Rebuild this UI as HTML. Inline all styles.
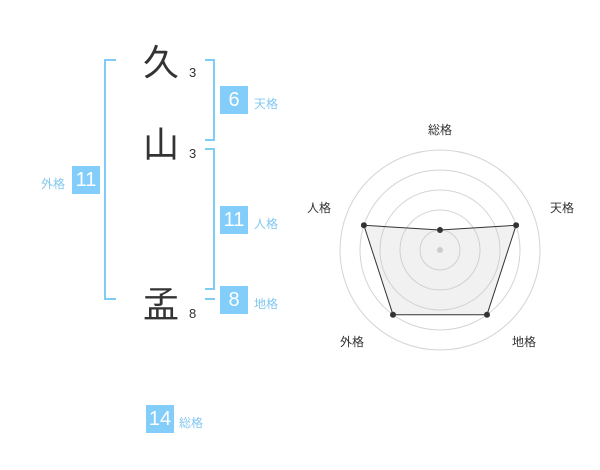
<!DOCTYPE html>
<html><head><meta charset="utf-8"><style>
html,body{margin:0;padding:0;background:#fff;}
body{width:600px;height:470px;position:relative;overflow:hidden;font-family:"Liberation Sans","Noto Sans CJK JP",sans-serif;}
.a{position:absolute;}
.ch{position:absolute;font-size:36px;line-height:36px;color:#333;width:40px;text-align:center;font-family:"Noto Sans CJK JP",sans-serif;}
.n{position:absolute;font-size:13px;line-height:13px;color:#333;}
.box{position:absolute;width:28px;height:28px;background:#82cdf9;color:#fff;font-size:20px;line-height:28px;text-align:center;}
.lb{position:absolute;font-size:12px;line-height:12px;color:#82c8f2;font-family:"Liberation Sans","Noto Sans CJK JP",sans-serif;}
.rl{position:absolute;font-size:12px;line-height:12px;color:#333;font-family:"Liberation Sans","Noto Sans CJK JP",sans-serif;}
</style></head><body>
<svg class="a" style="left:0;top:0" width="600" height="470">
 <g stroke="#7fccf7" stroke-width="2" fill="none">
  <polyline points="116,60 105,60 105,299 116,299"/>
  <polyline points="205,60 214,60 214,140 205,140"/>
  <polyline points="205,149 214,149 214,289 205,289"/>
  <line x1="205" y1="299" x2="215" y2="299"/>
 </g>
 <g fill="none" stroke="#d4d4d4" stroke-width="1">
  <circle cx="440" cy="250" r="100"/>
  <circle cx="440" cy="250" r="80"/>
  <circle cx="440" cy="250" r="60"/>
  <circle cx="440" cy="250" r="40"/>
  <circle cx="440" cy="250" r="20"/>
 </g>
 <polygon points="440,230 516.1,225.3 487,314.7 393,314.7 363.9,225.3" fill="rgba(200,200,200,0.25)" stroke="#333" stroke-width="1"/>
 <circle cx="440" cy="250" r="3" fill="#ccc"/>
 <g fill="#333">
  <circle cx="440" cy="230" r="3"/>
  <circle cx="516.1" cy="225.3" r="3"/>
  <circle cx="487" cy="314.7" r="3"/>
  <circle cx="393" cy="314.7" r="3"/>
  <circle cx="363.9" cy="225.3" r="3"/>
 </g>
</svg>
<div class="ch" style="left:141px;top:42px">久</div>
<div class="ch" style="left:141px;top:124px">山</div>
<div class="ch" style="left:141px;top:284px">孟</div>
<div class="n" style="left:189px;top:66px">3</div>
<div class="n" style="left:189px;top:147px">3</div>
<div class="n" style="left:189px;top:307px">8</div>
<div class="box" style="left:220px;top:86px">6</div>
<div class="lb" style="left:254px;top:98px">天格</div>
<div class="box" style="left:220px;top:206px">11</div>
<div class="lb" style="left:254px;top:218px">人格</div>
<div class="box" style="left:220px;top:286px">8</div>
<div class="lb" style="left:254px;top:298px">地格</div>
<div class="box" style="left:72px;top:166px">11</div>
<div class="lb" style="left:41px;top:178px">外格</div>
<div class="box" style="left:146px;top:405px">14</div>
<div class="lb" style="left:179px;top:417px">総格</div>
<div class="rl" style="left:428px;top:124px">総格</div>
<div class="rl" style="left:550px;top:202px">天格</div>
<div class="rl" style="left:307px;top:202px">人格</div>
<div class="rl" style="left:340px;top:336px">外格</div>
<div class="rl" style="left:512px;top:336px">地格</div>
</body></html>
